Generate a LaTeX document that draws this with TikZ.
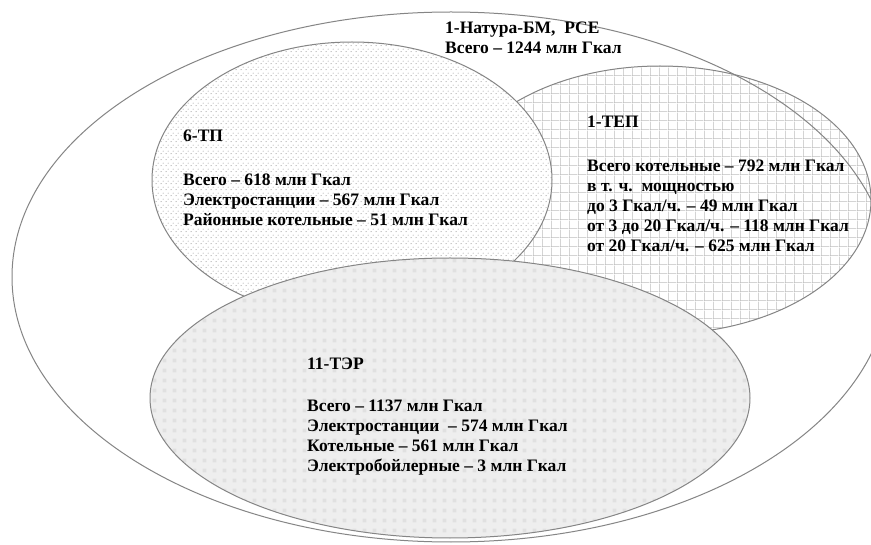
\documentclass[tikz,border=0pt]{standalone}
\usepackage{fontspec}
\setmainfont{Liberation Serif}[BoldFont={Liberation Serif Bold}]
\usetikzlibrary{patterns.meta}
\definecolor{rimGray}{HTML}{858585}
\definecolor{dotGray}{HTML}{6A6A6A}
\definecolor{gridGray}{HTML}{BDBDBD}
\definecolor{terFill}{HTML}{EEEEEE}
\definecolor{terCell}{HTML}{E0E0E0}

\tikzdeclarepattern{
  name=tpdots, type=uncolored,
  bounding box={(0pt,0pt) and (5pt,6pt)},
  tile size={(5pt,6pt)},
  code={\fill (1.25pt,1.5pt) circle (0.55pt) (3.75pt,4.5pt) circle (0.55pt);}
}
\tikzdeclarepattern{
  name=tepgrid, type=uncolored,
  bounding box={(0pt,0pt) and (8.7pt,8.7pt)},
  tile size={(8.7pt,8.7pt)},
  code={\draw[line width=0.7pt] (0pt,0.35pt) -- (8.7pt,0.35pt) (0.35pt,0pt) -- (0.35pt,8.7pt);}
}
\tikzdeclarepattern{
  name=tercells, type=uncolored,
  bounding box={(0pt,0pt) and (10pt,10pt)},
  tile size={(10pt,10pt)},
  code={\fill (3pt,3pt) rectangle (7pt,7pt);}
}

\begin{document}
\begin{tikzpicture}[x=1pt, y=-1pt,
    rim/.style={draw=rimGray, line width=1pt},
    blocktext/.style={anchor=north west, inner sep=0pt, align=left,
      font=\fontsize{17.5}{20}\selectfont\bfseries}]
    \useasboundingbox (0,0) rectangle (871,545);
    \fill[white] (0,0) rectangle (871,545);
    \clip (0,0) rectangle (871,545);
    % outer survey and the three forms inside it
    \fill[white] (451,277) ellipse (439 and 265);
    \draw[rim, preaction={fill=white}, pattern=tepgrid, pattern color=gridGray] (660,200) ellipse (211 and 134);
    \draw[rim] (451,277) ellipse (439 and 265);
    \draw[rim, preaction={fill=white}, pattern=tpdots, pattern color=dotGray] (352,180) ellipse (200 and 138);
    \draw[rim, preaction={fill=terFill}, pattern=tercells, pattern color=terCell] (450,398) ellipse (300 and 140);

    \node[blocktext] (natura) at (445,22) {1-Натура-БМ,\ \ РСЕ\\Всего – 1244 млн Гкал};
    \node[blocktext] (tp) at (183,130) {6-ТП\\[24pt]Всего – 618 млн Гкал\\Электростанции – 567 млн Гкал\\Районные котельные – 51 млн Гкал};
    \node[blocktext] (tep) at (587,116) {1-ТЕП\\[24pt]Всего котельные – 792 млн Гкал\\в т. ч.\ \ мощностью\\до 3 Гкал/ч. – 49 млн Гкал\\от 3 до 20 Гкал/ч. – 118 млн Гкал\\от 20 Гкал/ч. – 625 млн Гкал};
    \node[blocktext] (ter) at (307,358) {11-ТЭР\\[22pt]Всего – 1137 млн Гкал\\Электростанции\ \ – 574 млн Гкал\\Котельные – 561 млн Гкал\\Электробойлерные – 3 млн Гкал};
\end{tikzpicture}
\end{document}
